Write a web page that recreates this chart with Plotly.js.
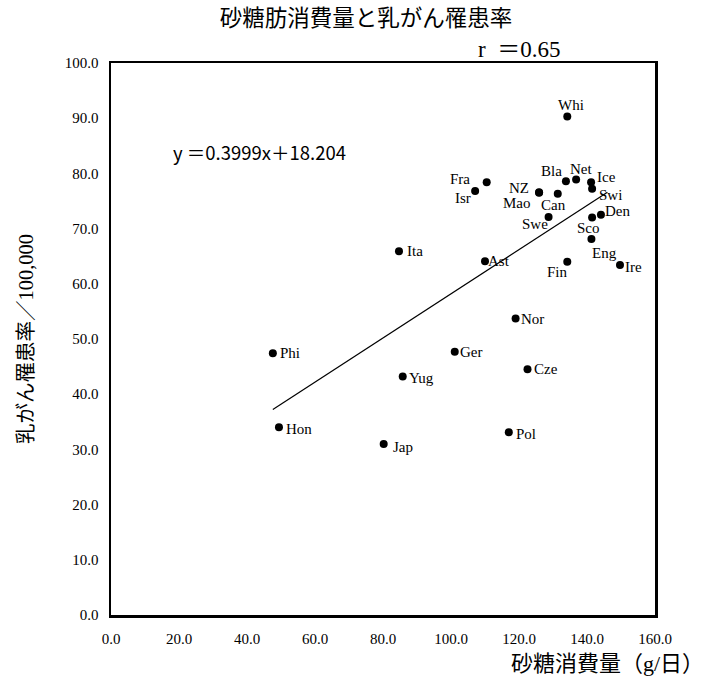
<!DOCTYPE html>
<html>
<head>
<meta charset="utf-8">
<script src="https://cdn.plot.ly/plotly-3.0.1.min.js"></script>
<style>html,body{margin:0;padding:0;background:#fff;}#chart{width:708px;height:679px;}</style>
</head>
<body>
<div id="chart"></div>
<script>
// ---- data ----
var countries = ["Whi","Fra","Isr","NZ","Mao","Can","Bla","Net","Ice","Swi","Den","Sco","Eng","Swe","Fin","Ire","Ita","Ast","Nor","Ger","Phi","Yug","Cze","Hon","Jap","Pol"];
var sugar     = [134.2,110.5,107.1,125.9,125.9,131.4,133.8,136.8,141.2,141.5,144.1,141.5,141.3,128.7,134.2,149.7,84.7,110.0,119.0,101.1,47.6,85.8,122.5,49.4,80.2,117.0];
var incidence = [90.3,78.4,76.8,76.6,76.5,76.3,78.6,78.9,78.4,77.2,72.5,72.0,68.1,72.1,64.0,63.4,65.9,64.1,53.7,47.7,47.4,43.2,44.5,34.0,31.0,33.1];
var slope = 0.3999, intercept = 18.204, rValue = 0.65;
var lineX = [47.6, 146.0];
var xTicks = [0,20,40,60,80,100,120,140,160];
var yTicks = [0,10,20,30,40,50,60,70,80,90,100];

// ---- label offsets (style: px, right / down) ----
var labelOffsets = {
  Whi:[4,-12], Fra:[-27,-3], Isr:[-12,7], NZ:[-20,-4], Mao:[-22,10], Can:[-4,11],
  Bla:[-14,-10], Net:[5,-10], Ice:[15,-5], Swi:[18,6], Den:[17,-4], Sco:[-4,10],
  Eng:[13,14], Swe:[-14,7], Fin:[-10,10], Ire:[14,2], Ita:[16,0], Ast:[14,0],
  Nor:[17,0], Ger:[17,0], Phi:[17,0], Yug:[19,1], Cze:[18,0], Hon:[20,2], Jap:[19,3], Pol:[17,2]
};

var serif = "'Liberation Serif', 'Noto Sans CJK JP', serif";
var cjk = "'Liberation Serif', 'Noto Sans CJK JP', serif";

var lineY = lineX.map(function(x){ return slope*x + intercept; });

var traces = [
  {x: lineX, y: lineY, mode: 'lines', line: {color: '#000', width: 1.2}, hoverinfo: 'skip'},
  {x: sugar, y: incidence, mode: 'markers', marker: {color: '#000', size: 8}, text: countries}
];

var annotations = countries.map(function(c, i){
  var o = labelOffsets[c];
  return {x: sugar[i], y: incidence[i], xref: 'x', yref: 'y', text: c, showarrow: false,
          xanchor: 'center', yanchor: 'middle', xshift: o[0], yshift: -o[1],
          font: {family: serif, size: 15, color: '#000'}};
});
annotations.push({xref: 'paper', yref: 'paper', x: (171-111)/544.5, y: 1-(152-62.5)/552.2,
  xanchor: 'left', yanchor: 'middle', showarrow: false,
  text: 'y ＝' + slope + 'x＋' + intercept,
  font: {family: "'Noto Sans CJK JP', sans-serif", size: 18.5, color: '#000'}});
annotations.push({xref: 'paper', yref: 'paper', x: (519-111)/544.5, y: 1+(62.5-49)/552.2,
  xanchor: 'center', yanchor: 'middle', showarrow: false,
  text: 'r  ＝' + rValue.toFixed(2),
  font: {family: serif, size: 23, color: '#000'}});
annotations.push({xref: 'paper', yref: 'paper', x: (707-111)/544.5, y: -(663-614.7)/552.2,
  xanchor: 'right', yanchor: 'middle', showarrow: false,
  text: '砂糖消費量（g/日）',
  font: {family: cjk, size: 22, color: '#000'}});

var layout = {
  width: 708, height: 679,
  margin: {l: 111, r: 52.5, t: 62.5, b: 64.3, pad: 0},
  paper_bgcolor: '#fff', plot_bgcolor: '#fff',
  showlegend: false,
  title: {text: '砂糖肪消費量と乳がん罹患率', x: 366/708, xref: 'container', xanchor: 'center',
          y: 1-18/679, yref: 'container', yanchor: 'middle',
          font: {family: cjk, size: 22.5, color: '#000'}},
  xaxis: {range: [0,160], tickvals: xTicks, ticktext: xTicks.map(function(v){return v.toFixed(1);}),
          showgrid: false, zeroline: false, showline: true, linecolor: '#000', linewidth: 2.5, mirror: true,
          ticks: '', ticklabelstandoff: 8, tickfont: {family: serif, size: 15, color: '#000'}},
  yaxis: {range: [0,100], tickvals: yTicks, ticktext: yTicks.map(function(v){return v.toFixed(1);}),
          showgrid: false, zeroline: false, showline: true, linecolor: '#000', linewidth: 2.5, mirror: true,
          ticks: '', ticklabelstandoff: 7, tickfont: {family: serif, size: 15, color: '#000'},
          title: {text: '乳がん罹患率／100,000', standoff: 26, font: {family: cjk, size: 20.5, color: '#000'}}},
  annotations: annotations
};

Plotly.newPlot('chart', traces, layout, {displayModeBar: false, staticPlot: true});
</script>
</body>
</html>
